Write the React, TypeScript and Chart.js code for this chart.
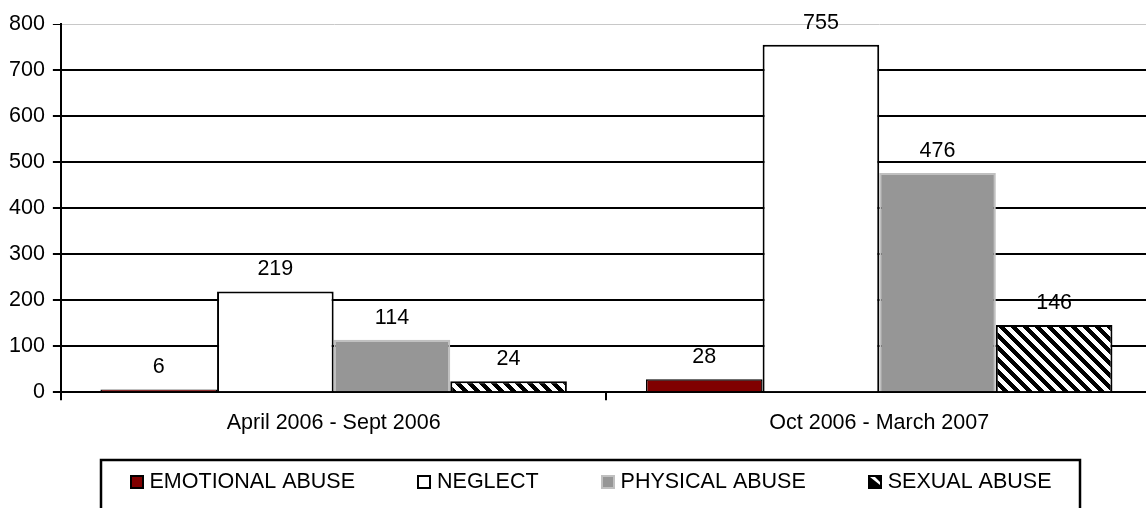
import React, { useEffect, useRef } from "react";
import { Chart, registerables } from "chart.js";

Chart.register(...registerables);

const categories = ["April 2006 - Sept 2006", "Oct 2006 - March 2007"];
const seriesLabels = ["EMOTIONAL ABUSE", "NEGLECT", "PHYSICAL ABUSE", "SEXUAL ABUSE"];
const emotionalAbuse = [6, 28];
const neglect = [219, 755];
const physicalAbuse = [114, 476];
const sexualAbuse = [24, 146];
const yTicks = [0, 100, 200, 300, 400, 500, 600, 700, 800];

const FONT = '"Liberation Sans", Arial, sans-serif';
const FS = 21.5;

function makeHatch(): CanvasPattern | string {
  const size = 12;
  const c = document.createElement("canvas");
  c.width = size;
  c.height = size;
  const g = c.getContext("2d");
  if (!g) return "#000";
  const img = g.createImageData(size, size);
  for (let y = 0; y < size; y++) {
    for (let x = 0; x < size; x++) {
      const d = (((x - y) % size) + size) % size;
      const black = d < 6;
      const i = (y * size + x) * 4;
      const v = black ? 0 : 255;
      img.data[i] = v;
      img.data[i + 1] = v;
      img.data[i + 2] = v;
      img.data[i + 3] = 255;
    }
  }
  g.putImageData(img, 0, 0);
  const p = g.createPattern(c, "repeat");
  return p || "#000";
}

const valueLabels = {
  id: "valueLabels",
  afterDatasetsDraw(chart: any) {
    const ctx = chart.ctx;
    ctx.save();
    ctx.font = `${FS}px ${FONT}`;
    ctx.fillStyle = "#000";
    ctx.textAlign = "center";
    ctx.textBaseline = "middle";
    chart.data.datasets.forEach((ds: any, di: number) => {
      const meta = chart.getDatasetMeta(di);
      meta.data.forEach((el: any, i: number) => {
        ctx.fillText(String(ds.data[i]), el.x, el.y - 22);
      });
    });
    ctx.restore();
  },
};

const boxLegend = {
  id: "boxLegend",
  afterDraw(chart: any) {
    const ctx = chart.ctx;
    const left = 101;
    const right = 1080;
    const top = 460;
    const bottom = 520;
    ctx.save();
    ctx.strokeStyle = "#000";
    ctx.lineWidth = 2.5;
    ctx.strokeRect(left, top, right - left, bottom - top);
    ctx.font = `${FS}px ${FONT}`;
    ctx.textBaseline = "middle";
    ctx.textAlign = "left";
    const sw = 14;
    const gap = 6;
    const spacing = 62;
    const widths = chart.data.datasets.map((ds: any) => ctx.measureText(ds.label).width);
    let total = 0;
    widths.forEach((w: number, i: number) => {
      total += sw + gap + w + (i > 0 ? spacing : 0);
    });
    let x = left + (right - left - total) / 2;
    const cy = 482;
    chart.data.datasets.forEach((ds: any, i: number) => {
      const sx = Math.round(x);
      const sy = cy - 7;
      if (i === 3) {
        ctx.fillStyle = "#000";
        ctx.fillRect(sx, sy, sw, sw);
        ctx.fillStyle = "#fff";
        ctx.beginPath();
        ctx.moveTo(sx + 2, sy + 2);
        ctx.lineTo(sx + 7, sy + 2);
        ctx.lineTo(sx + 12, sy + 7);
        ctx.lineTo(sx + 12, sy + 10);
        ctx.closePath();
        ctx.fill();
      } else {
        ctx.fillStyle = ds.backgroundColor;
        ctx.fillRect(sx, sy, sw, sw);
        ctx.strokeStyle = ds.borderColor;
        ctx.lineWidth = 2;
        ctx.strokeRect(sx + 1, sy + 1, sw - 2, sw - 2);
      }
      ctx.fillStyle = "#000";
      ctx.fillText(ds.label, x + sw + gap, cy);
      x += sw + gap + widths[i] + spacing;
    });
    ctx.restore();
  },
};

export default function App() {
  const ref = useRef<HTMLCanvasElement | null>(null);
  useEffect(() => {
    if (!ref.current) return;
    const hatch = makeHatch();
    const chart = new Chart(ref.current, {
      type: "bar",
      data: {
        labels: categories,
        datasets: [
          { label: seriesLabels[0], data: emotionalAbuse, backgroundColor: "#800000", borderColor: "#000", borderWidth: 1.5 },
          { label: seriesLabels[1], data: neglect, backgroundColor: "#ffffff", borderColor: "#000", borderWidth: 2 },
          { label: seriesLabels[2], data: physicalAbuse, backgroundColor: "#969696", borderColor: "#c0c0c0", borderWidth: 2 },
          { label: seriesLabels[3], data: sexualAbuse, backgroundColor: hatch as any, borderColor: "#000", borderWidth: 2 },
        ],
      },
      options: {
        responsive: false,
        animation: false,
        devicePixelRatio: 1,
        layout: { padding: { left: 1, right: 0, top: 24, bottom: 62 } },
        plugins: { legend: { display: false }, tooltip: { enabled: false } },
        datasets: { bar: { categoryPercentage: 0.855, barPercentage: 1.0 } },
        scales: {
          x: {
            offset: true,
            grid: { drawOnChartArea: false, drawTicks: true, tickLength: 8, tickColor: "#000", lineWidth: 2, offset: true },
            border: { color: "#000", width: 2 },
            ticks: { color: "#000", font: { family: FONT, size: FS }, padding: 10 },
          },
          y: {
            min: 0,
            max: 800,
            afterBuildTicks: (axis: any) => {
              axis.ticks = yTicks.map((v) => ({ value: v }));
            },
            grid: {
              color: (c: any) => (c.tick && c.tick.value === 800 ? "#c8c8c8" : "#000"),
              lineWidth: (c: any) => (c.tick && c.tick.value === 800 ? 1 : 2),
              tickColor: "#000",
              tickLength: 8,
              drawTicks: true,
            },
            border: { color: "#000", width: 2 },
            ticks: { color: "#000", font: { family: FONT, size: FS }, padding: 8 },
          },
        },
      },
      plugins: [valueLabels, boxLegend],
    });
    return () => chart.destroy();
  }, []);
  return (
    <div style={{ position: "fixed", left: 0, top: 0, width: 1146, height: 508, overflow: "hidden", background: "#fff" }}>
      <canvas ref={ref} width={1152} height={508} style={{ display: "block", width: 1152, height: 508 }} />
    </div>
  );
}
